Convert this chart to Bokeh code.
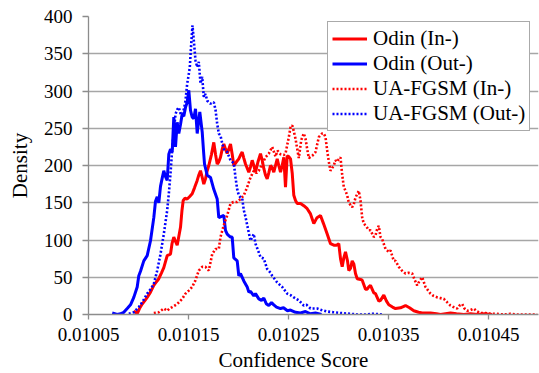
from bokeh.plotting import figure
from bokeh.models import Range1d, FixedTicker, PrintfTickFormatter, Legend, Title
from bokeh.embed import file_html
from bokeh.resources import INLINE

FONT = "'Liberation Serif'"

x_ticks = [0.01005, 0.01015, 0.01025, 0.01035, 0.01045]
y_ticks = [0, 50, 100, 150, 200, 250, 300, 350, 400]
series_names = ["Odin (In-)", "Odin (Out-)", "UA-FGSM (In-)", "UA-FGSM (Out-)"]
x_title = "Confidence Score"
y_title = "Density"

odin_out_x = [
    0.0100737, 0.0100787, 0.0100820, 0.0100853, 0.0100887, 0.0100920, 0.0100953, 0.0100987, 0.0101003, 0.0101020,
    0.0101053, 0.0101087, 0.0101120, 0.0101153, 0.0101170, 0.0101187, 0.0101203, 0.0101220, 0.0101237, 0.0101253,
    0.0101270, 0.0101287, 0.0101303, 0.0101320, 0.0101337, 0.0101353, 0.0101370, 0.0101387, 0.0101403, 0.0101420,
    0.0101437, 0.0101453, 0.0101470, 0.0101487, 0.0101503, 0.0101520, 0.0101537, 0.0101553, 0.0101570, 0.0101587,
    0.0101600, 0.0101613, 0.0101637, 0.0101650, 0.0101660, 0.0101687, 0.0101720, 0.0101753, 0.0101787, 0.0101803,
    0.0101820, 0.0101853, 0.0101870, 0.0101887, 0.0101903, 0.0101920, 0.0101937, 0.0101953, 0.0101987, 0.0102003,
    0.0102020, 0.0102053, 0.0102087, 0.0102103, 0.0102120, 0.0102153, 0.0102170, 0.0102203, 0.0102230, 0.0102253,
    0.0102280, 0.0102303, 0.0102330, 0.0102353, 0.0102380, 0.0102420, 0.0102450, 0.0102490, 0.0102520, 0.0102570,
    0.0102620, 0.0102670, 0.0102720, 0.0102770, 0.0102830,
]
odin_out_y = [
    2, 0, 1, 3, 8, 13, 23, 37, 52, 58,
    72, 79, 99, 130, 152, 158, 150, 172, 183, 193,
    185, 180, 215, 222, 218, 265, 225, 258, 243, 255,
    269, 266, 278, 285, 301, 274, 265, 263, 276, 243,
    258, 272, 245, 220, 202, 187, 184, 168, 155, 130,
    131, 133, 113, 108, 106, 104, 104, 76, 72, 52,
    55, 45, 37, 30, 31, 25, 28, 21, 19, 22,
    14, 12, 16, 13, 10, 8, 9, 5, 6, 3,
    2, 4, 1, 2, 0,
]

fgsm_out_x = [
    0.0100903, 0.0100953, 0.0101003, 0.0101040, 0.0101087, 0.0101120, 0.0101153, 0.0101187, 0.0101220, 0.0101253,
    0.0101287, 0.0101303, 0.0101320, 0.0101337, 0.0101353, 0.0101370, 0.0101387, 0.0101403, 0.0101420, 0.0101437,
    0.0101453, 0.0101470, 0.0101487, 0.0101500, 0.0101513, 0.0101527, 0.0101540, 0.0101553, 0.0101570, 0.0101587,
    0.0101603, 0.0101620, 0.0101637, 0.0101653, 0.0101670, 0.0101687, 0.0101703, 0.0101720, 0.0101753, 0.0101770,
    0.0101787, 0.0101803, 0.0101820, 0.0101837, 0.0101853, 0.0101887, 0.0101920, 0.0101953, 0.0101970, 0.0101987,
    0.0102003, 0.0102020, 0.0102037, 0.0102053, 0.0102070, 0.0102090, 0.0102120, 0.0102153, 0.0102170, 0.0102190,
    0.0102220, 0.0102253, 0.0102287, 0.0102320, 0.0102337, 0.0102387, 0.0102437, 0.0102487, 0.0102520, 0.0102553,
    0.0102603, 0.0102653, 0.0102680, 0.0102720, 0.0102787, 0.0102830, 0.0102887, 0.0102950, 0.0103020, 0.0103120,
    0.0103187, 0.0103270, 0.0103350, 0.0103437,
]
fgsm_out_y = [
    1, 3, 10, 17, 28, 34, 41, 59, 81, 108,
    140, 162, 189, 222, 245, 269, 275, 278, 270, 265,
    275, 287, 310, 320, 332, 363, 388, 368, 341, 332,
    339, 310, 319, 292, 296, 287, 285, 283, 285, 275,
    256, 243, 240, 230, 222, 218, 207, 203, 184, 168,
    160, 157, 156, 140, 131, 118, 99, 108, 95, 88,
    77, 75, 61, 56, 52, 43, 37, 28, 26, 23,
    19, 12, 13, 8, 8, 6, 4, 3, 2, 1,
    0, 0, 1, 0,
]

odin_in_x = [
    0.0100953, 0.0100987, 0.0101010, 0.0101037, 0.0101060, 0.0101087, 0.0101120, 0.0101153, 0.0101180, 0.0101203,
    0.0101230, 0.0101253, 0.0101287, 0.0101303, 0.0101320, 0.0101335, 0.0101353, 0.0101370, 0.0101387, 0.0101420,
    0.0101435, 0.0101447, 0.0101465, 0.0101487, 0.0101510, 0.0101537, 0.0101560, 0.0101587, 0.0101605, 0.0101620,
    0.0101637, 0.0101653, 0.0101670, 0.0101687, 0.0101703, 0.0101730, 0.0101753, 0.0101770, 0.0101787, 0.0101803,
    0.0101820, 0.0101837, 0.0101853, 0.0101870, 0.0101887, 0.0101903, 0.0101920, 0.0101937, 0.0101953, 0.0101980,
    0.0102003, 0.0102020, 0.0102037, 0.0102053, 0.0102070, 0.0102103, 0.0102120, 0.0102137, 0.0102153, 0.0102170,
    0.0102195, 0.0102220, 0.0102237, 0.0102253, 0.0102270, 0.0102287, 0.0102303, 0.0102320, 0.0102337, 0.0102353,
    0.0102370, 0.0102387, 0.0102403, 0.0102420, 0.0102437, 0.0102453, 0.0102470, 0.0102487, 0.0102503, 0.0102520,
    0.0102537, 0.0102553, 0.0102570, 0.0102587, 0.0102620, 0.0102653, 0.0102687, 0.0102720, 0.0102753, 0.0102785,
    0.0102820, 0.0102850, 0.0102887, 0.0102920, 0.0102953, 0.0102980, 0.0103003, 0.0103020, 0.0103037, 0.0103053,
    0.0103070, 0.0103090, 0.0103103, 0.0103120, 0.0103137, 0.0103153, 0.0103170, 0.0103187, 0.0103220, 0.0103237,
    0.0103270, 0.0103287, 0.0103303, 0.0103320, 0.0103353, 0.0103370, 0.0103403, 0.0103420, 0.0103453, 0.0103480,
    0.0103503, 0.0103540, 0.0103570, 0.0103620, 0.0103670, 0.0103710, 0.0103753, 0.0103800, 0.0103837, 0.0103920,
    0.0103980, 0.0104020, 0.0104070, 0.0104120, 0.0104180, 0.0104253, 0.0104320, 0.0104387, 0.0104460, 0.0104537,
]
odin_in_y = [
    5, 1, 8, 14, 18, 23, 30, 39, 44, 48,
    56, 63, 79, 80, 81, 95, 104, 98, 93, 117,
    140, 153, 156, 155, 158, 162, 170, 180, 188, 193,
    184, 175, 182, 193, 200, 215, 231, 215, 202, 205,
    211, 222, 229, 222, 216, 222, 229, 215, 200, 205,
    209, 214, 218, 210, 202, 191, 198, 207, 200, 191,
    205, 216, 207, 196, 187, 182, 190, 200, 197, 191,
    200, 209, 200, 191, 200, 211, 171, 213, 212, 209,
    190, 160, 153, 149, 149, 146, 142, 135, 122, 130,
    133, 122, 108, 95, 93, 93, 95, 75, 64, 76,
    84, 72, 59, 62, 72, 68, 55, 48, 47, 46,
    34, 34, 37, 39, 29, 28, 18, 19, 26, 18,
    13, 10, 8, 9, 12, 9, 5, 3, 2, 2,
    1, 0, 1, 2, 1, 0, 1, 0, 1, 0,
]

fgsm_in_x = [
    0.0101153, 0.0101203, 0.0101253, 0.0101287, 0.0101310, 0.0101337, 0.0101387, 0.0101437, 0.0101470, 0.0101503,
    0.0101537, 0.0101570, 0.0101603, 0.0101637, 0.0101670, 0.0101703, 0.0101737, 0.0101770, 0.0101803, 0.0101820,
    0.0101853, 0.0101887, 0.0101920, 0.0101950, 0.0101987, 0.0102020, 0.0102053, 0.0102087, 0.0102120, 0.0102153,
    0.0102180, 0.0102203, 0.0102237, 0.0102270, 0.0102303, 0.0102337, 0.0102370, 0.0102390, 0.0102420, 0.0102453,
    0.0102470, 0.0102503, 0.0102520, 0.0102537, 0.0102553, 0.0102570, 0.0102590, 0.0102603, 0.0102627, 0.0102653,
    0.0102670, 0.0102687, 0.0102703, 0.0102737, 0.0102770, 0.0102803, 0.0102837, 0.0102853, 0.0102870, 0.0102887,
    0.0102903, 0.0102920, 0.0102953, 0.0102970, 0.0102987, 0.0103000, 0.0103020, 0.0103035, 0.0103053, 0.0103070,
    0.0103087, 0.0103103, 0.0103137, 0.0103153, 0.0103170, 0.0103203, 0.0103220, 0.0103237, 0.0103253, 0.0103280,
    0.0103303, 0.0103320, 0.0103353, 0.0103370, 0.0103387, 0.0103403, 0.0103420, 0.0103437, 0.0103470, 0.0103503,
    0.0103520, 0.0103553, 0.0103570, 0.0103603, 0.0103640, 0.0103670, 0.0103700, 0.0103737, 0.0103760, 0.0103787,
    0.0103810, 0.0103837, 0.0103870, 0.0103920, 0.0103950, 0.0103987, 0.0104020, 0.0104053, 0.0104090, 0.0104120,
    0.0104150, 0.0104187, 0.0104210, 0.0104237, 0.0104260, 0.0104287, 0.0104320, 0.0104353, 0.0104387, 0.0104420,
    0.0104470, 0.0104520, 0.0104580, 0.0104653, 0.0104720, 0.0104787, 0.0104870, 0.0104987,
]
fgsm_in_y = [
    2, 3, 8, 5, 8, 10, 14, 21, 28, 32,
    37, 46, 59, 64, 64, 59, 81, 88, 88, 104,
    120, 133, 149, 151, 151, 155, 160, 171, 184, 193,
    190, 193, 202, 211, 216, 225, 212, 220, 215, 214,
    216, 238, 251, 254, 246, 236, 220, 210, 234, 243,
    236, 222, 210, 213, 218, 238, 243, 243, 238, 220,
    205, 193, 200, 207, 205, 208, 211, 190, 171, 166,
    160, 150, 144, 148, 157, 166, 153, 130, 122, 118,
    113, 113, 104, 106, 115, 119, 104, 101, 88, 84,
    86, 72, 72, 64, 58, 55, 56, 55, 47, 39,
    45, 50, 37, 28, 25, 23, 22, 21, 16, 12,
    10, 8, 12, 14, 8, 5, 6, 8, 4, 2,
    2, 1, 1, 0, 1, 0, 0, 0,
]

RED = "#FF0000"
BLUE = "#0000FF"
GRID = "#a6a6a6"
AXIS = "#8c8c8c"

p = figure(width=539, height=373, output_backend="svg", toolbar_location=None,
           x_range=Range1d(0.01005, 0.0105), y_range=Range1d(0, 400),
           min_border_left=88, min_border_right=1, min_border_top=16, min_border_bottom=59)
p.outline_line_color = None
p.background_fill_color = "white"
p.border_fill_color = "white"

r1 = p.line(odin_in_x, odin_in_y, line_color=RED, line_width=3)
r2 = p.line(odin_out_x, odin_out_y, line_color=BLUE, line_width=3)
r3 = p.line(fgsm_in_x, fgsm_in_y, line_color=RED, line_width=2.6, line_dash="2 2")
r4 = p.line(fgsm_out_x, fgsm_out_y, line_color=BLUE, line_width=2.6, line_dash="2 2")

p.xgrid.visible = False
p.ygrid.grid_line_color = GRID
p.ygrid.grid_line_width = 1.3
p.ygrid.ticker = FixedTicker(ticks=y_ticks)

p.xaxis.ticker = FixedTicker(ticks=x_ticks)
p.xaxis.formatter = PrintfTickFormatter(format="%.5f")
p.yaxis.ticker = FixedTicker(ticks=y_ticks)
p.yaxis.axis_label = y_title

for ax in (p.xaxis, p.yaxis):
    ax.axis_line_color = AXIS
    ax.axis_line_width = 1.3
    ax.major_tick_line_color = AXIS
    ax.major_tick_line_width = 1.3
    ax.minor_tick_line_color = None
    ax.major_tick_in = 0
    ax.major_label_text_font = FONT
    ax.major_label_text_font_size = "19px"
    ax.major_label_text_color = "black"
    ax.axis_label_text_font = FONT
    ax.axis_label_text_font_size = "21px"
    ax.axis_label_text_font_style = "normal"
    ax.axis_label_text_color = "black"

p.xaxis.major_tick_out = 5
p.yaxis.major_tick_out = 6
p.xaxis.major_label_standoff = 8
p.yaxis.major_label_standoff = 10
p.yaxis.axis_label_standoff = 9

# x-axis title as a below-title, shifted slightly left of the frame centre as in the reference
xtitle = Title(text=x_title, align="left", offset=130, standoff=4,
               text_font=FONT, text_font_size="21px", text_font_style="normal",
               text_color="black")
p.add_layout(xtitle, "below")

legend = Legend(items=[(series_names[0], [r1]), (series_names[1], [r2]),
                       (series_names[2], [r3]), (series_names[3], [r4])],
                location=(239, 183))
legend.label_text_font = FONT
legend.label_text_font_size = "21px"
legend.label_text_color = "black"
legend.label_height = 21
legend.glyph_height = 21
legend.glyph_width = 35
legend.label_standoff = 6
legend.spacing = 0
legend.padding = 4
legend.margin = 0
legend.border_line_color = "#555555"
legend.border_line_width = 1
legend.background_fill_color = "white"
legend.background_fill_alpha = 1
p.add_layout(legend, "center")

open("out.html", "w").write(file_html(p, INLINE))
